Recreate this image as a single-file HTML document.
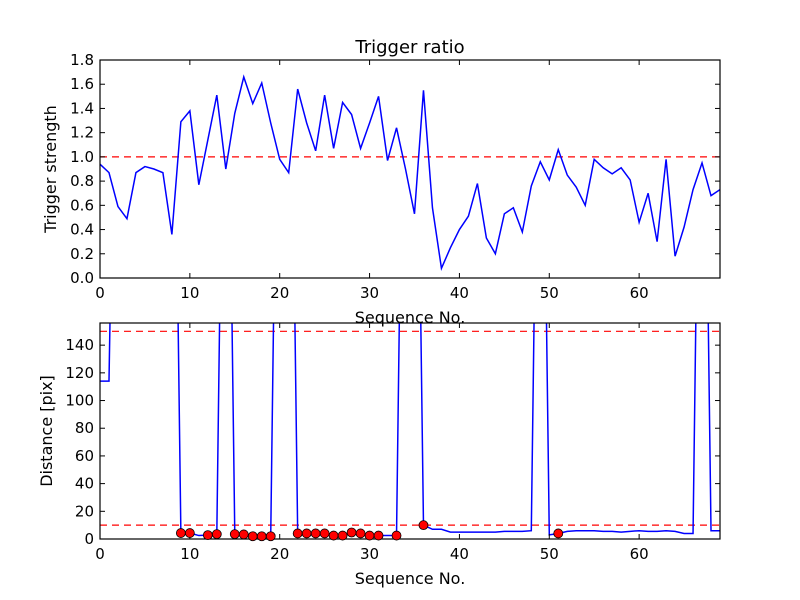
<!DOCTYPE html>
<html><head><meta charset="utf-8"><style>
body{margin:0;background:#fff;}
svg{display:block;font-family:"DejaVu Sans","Liberation Sans",sans-serif;}
</style></head><body>
<svg id="c" width="800" height="600" xmlns="http://www.w3.org/2000/svg">
<rect width="800" height="600" fill="#fff"/>
<defs>
<clipPath id="c1"><rect x="100" y="60" width="620" height="218"/></clipPath>
<clipPath id="c2"><rect x="100" y="323" width="620" height="216"/></clipPath>
</defs>
<text x="410" y="53" font-size="18" text-anchor="middle">Trigger ratio</text>
<g id="topg"></g>
<g id="botg"></g>
</svg>
<script>
const triggerStrength = [0.94,0.87,0.59,0.49,0.87,0.92,0.90,0.87,0.36,1.29,1.38,0.77,1.14,1.51,0.90,1.36,1.66,1.44,1.61,1.28,0.98,0.87,1.56,1.28,1.05,1.51,1.07,1.45,1.35,1.07,1.28,1.50,0.97,1.24,0.90,0.53,1.55,0.58,0.08,0.25,0.40,0.51,0.78,0.33,0.20,0.53,0.58,0.38,0.76,0.96,0.81,1.06,0.85,0.75,0.60,0.98,0.91,0.86,0.91,0.81,0.46,0.70,0.30,0.98,0.18,0.42,0.73,0.95,0.68,0.73];
const H = 500;
const distance = [114,114,H,H,H,H,H,H,H,4.3,4.3,2.5,2.8,3.5,H,3.5,3.3,2,2,2,H,H,4,4,4,4,2.5,2.5,4.7,4,2.5,2.5,2.5,2.5,H,H,10,7,7,5,5,5,5,5,5,5.5,5.5,5.5,6,H,3,4,5.5,6,6,6,5.5,5.5,5,5.5,6,5.5,5.5,6,5.5,4,4,H,6,6];
const markerIdx = [9,10,12,13,15,16,17,18,19,22,23,24,25,26,27,28,29,30,31,33,36,51];
const topYTicks = [0,0.2,0.4,0.6,0.8,1.0,1.2,1.4,1.6,1.8];
const botYTicks = [0,20,40,60,80,100,120,140];
const xTicks = [0,10,20,30,40,50,60];
const topThreshold = [1.0];
const botThresholds = [10,150];

const NS="http://www.w3.org/2000/svg";
function mk(p,t,a){const e=document.createElementNS(NS,t);for(const k in a)e.setAttribute(k,a[k]);p.appendChild(e);return e;}
const X0=100,X1=720,XMAX=69;
const xs=v=>X0+(X1-X0)*v/XMAX;

function panel(g,y0,y1,ymax,ticks,fmt,ylabel,yl,clip,vals,thr){
  const ys=v=>y1-(y1-y0)*v/ymax;
  thr.forEach(t=>{const l=mk(g,'line',{x1:X0,x2:X1,y1:ys(t),y2:ys(t),stroke:'#f00','stroke-width':1.2,'stroke-dasharray':'7,5'});
  
  });
  const pts=vals.map((v,i)=>xs(i).toFixed(2)+','+ys(v).toFixed(2)).join(' ');
  const pl=mk(g,'polyline',{points:pts,fill:'none',stroke:'#00f','stroke-width':1.5,'clip-path':'url(#'+clip+')'});
  
  
  const r=mk(g,'rect',{x:X0,y:y0,width:X1-X0,height:y1-y0,fill:'none',stroke:'#000','stroke-width':1.2});
  
  
  ticks.forEach(t=>{const y=ys(t);
    mk(g,'line',{x1:X0,x2:X0+5,y1:y,y2:y,stroke:'#000'});
    mk(g,'line',{x1:X1,x2:X1-5,y1:y,y2:y,stroke:'#000'});
    const tx=mk(g,'text',{x:X0-6,y:y+5,'font-size':15,'text-anchor':'end'});tx.textContent=fmt(t);
    
    });
  xTicks.forEach(t=>{const x=xs(t);
    mk(g,'line',{x1:x,x2:x,y1:y1,y2:y1-5,stroke:'#000'});
    mk(g,'line',{x1:x,x2:x,y1:y0,y2:y0+5,stroke:'#000'});
    const tx=mk(g,'text',{x:x,y:y1+20,'font-size':15,'text-anchor':'middle'});tx.textContent=t;
    
    });
  const xl=mk(g,'text',{x:410,y:y1+45,'font-size':16,'text-anchor':'middle'});xl.textContent='Sequence No.';
  
  
  const cy=(y0+y1)/2;
  const yt=mk(g,'text',{x:yl,y:cy,'font-size':16,'text-anchor':'middle',transform:'rotate(-90 '+yl+' '+cy+')'});yt.textContent=ylabel;
  
  
  return ys;
}
const topPanel=document.getElementById('topg'),botPanel=document.getElementById('botg');
panel(topPanel,60,278,1.8,topYTicks,v=>v.toFixed(1),'Trigger strength',56,'c1',triggerStrength,topThreshold);
const ysb=panel(botPanel,323,539,156,botYTicks,v=>String(v),'Distance [pix]',52,'c2',distance,botThresholds);
markerIdx.forEach(i=>{const c=mk(botPanel,'circle',{cx:xs(i),cy:ysb(distance[i]),r:4.5,fill:'#f00',stroke:'#000','stroke-width':0.8});
  
  });
</script>
</body></html>
